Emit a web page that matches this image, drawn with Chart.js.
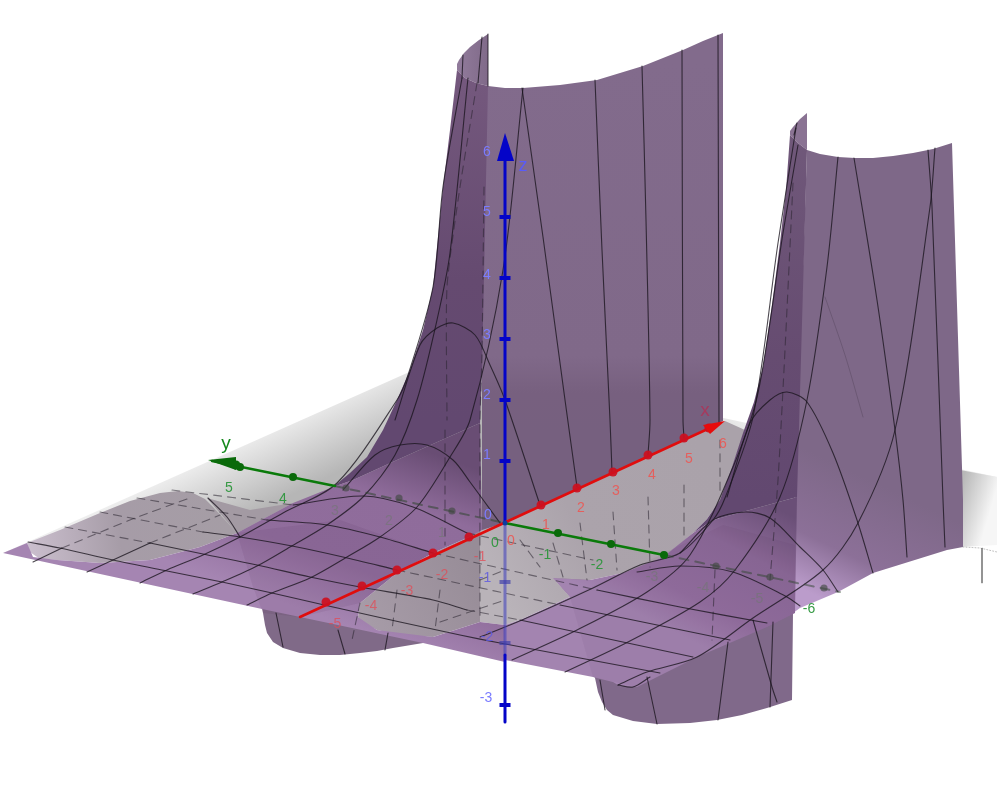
<!DOCTYPE html>
<html><head><meta charset="utf-8">
<style>html,body{margin:0;padding:0;background:#fff}canvas{display:block}</style>
<script src="https://cdn.jsdelivr.net/npm/chart.js@4/dist/chart.umd.min.js"></script>
</head><body><canvas id="c" width="997" height="795"></canvas>
<script>
// ---------- data, [horizontal, vertical] in picture units ----------
const xTickLabels = ["-5","-4","-3","-2","-1","0","1","2","3","4","5","6"];
const xTickMarks  = [[326,602],[362,586],[397,570],[433,553],[469,537],[541,505],[577,488],[613,472],[648,455],[684,438],[709,428]];
const xLabelSpots = [[335,624],[371,606],[407,591],[442,575],[480,557],[511,541],[546,525],[581,508],[616,491],[652,475],[689,459],[723,444]];
const yTickLabels = ["5","4","3","2","1","0","-1","-2","-3","-4","-5","-6"];
const yTickMarksFront = [[240,467],[293,477],[558,533],[611,544],[664,555]];
const yTickMarksBehind = [[346,488],[399,498],[452,511],[716,566],[770,577],[824,588]];
const yLabelSpots = [[229,488],[283,499],[335,511],[389,521],[442,533],[495,543],[545,555],[597,565],[652,577],[703,588],[757,599],[809,609]];
const zTickLabels = ["6","5","4","3","2","1","0","-1","-2","-3"];
const zTickMarksFront = [[505,217],[505,278],[505,339],[505,400],[505,461],[505,705]];
const zTickMarksBehind = [[505,582],[505,643]];
const zLabelSpots = [[487,152],[487,212],[487,275],[487,335],[487,395],[487,455],[488,515],[485,578],[487,637],[486,698]];

const planeLeft = [[3,553],[434,361],[485,372],[485,530],[237,533]];
const planeCentre = [[640,400],[997,477],[963,547],[720,520]];
const planeFarRight = [[955,469],[997,477],[997,545],[960,547]];
const innerGrey = [[505,523],[725,421],[745,430],[732,467],[720,500],[707,519],[693,533],[678,546],[663,557],[643,566],[623,573],[590,580],[570,580],[553,578],[570,597],[520,620],[505,625],[480,622],[480,530]];
const innerGreyLeft = [[480,530],[480,622],[433,637],[400,635],[377,630],[362,622],[358,617],[360,603],[397,573],[433,553],[469,537]];
const humpLeft = [[27,543],[60,530],[100,513],[130,501],[160,493],[178,491],[193,493],[205,499],[213,507],[237,533],[200,547],[150,560],[100,563],[57,560],[40,559],[30,552]];
const humpWedge = [[207,498],[250,510],[293,503],[237,533]];
const tubeLeft = [[258,590],[263,613],[265,625],[267,633],[273,642],[283,648],[300,653],[320,655],[340,655],[360,653],[377,651],[393,648],[423,643],[433,641],[377,632],[300,614]];
const tubeRight = [[590,670],[595,678],[598,692],[602,702],[607,710],[613,715],[633,721],[657,724],[690,723],[717,720],[742,715],[767,708],[792,700],[793,613],[700,640]];
const wallCentre = [[488,86],[505,88],[523,88],[560,85],[597,80],[620,73],[643,66],[663,58],[683,50],[703,41],[723,33],[723,421],[505,523],[482,530],[482,86]];
const lipCentre = [[457,70],[457,64],[459,60],[464,53],[470,47],[479,40],[488,34],[488,86],[476,83],[465,78]];
const wallCentreDark = [[457,70],[465,78],[476,83],[488,86],[482,370],[480,423],[397,460],[353,480],[333,487],[350,473],[367,457],[383,430],[397,400],[410,370],[423,330],[433,287],[438,237],[443,187],[450,130]];
const sheetLeft = [[3,553],[27,543],[33,557],[57,560],[100,563],[150,560],[200,547],[237,533],[293,503],[333,487],[353,480],[397,460],[480,423],[482,530],[469,537],[433,553],[397,573],[360,603],[358,617],[377,630],[433,637],[480,622],[505,625],[505,662],[423,643],[300,617],[262,609]];
const sheetLeftShade = [[237,533],[253,587],[263,613],[300,617],[360,603],[397,573],[433,553],[340,520]];
const wallRight = [[807,150],[820,154],[838,157],[855,158],[873,158],[893,156],[913,153],[933,149],[952,143],[963,500],[963,547],[947,550],[873,573],[838,592],[800,608],[793,613],[795,500]];
const lipRight = [[790,135],[790,131],[793,127],[800,119],[807,113],[807,150],[798,143]];
const wallRightDark = [[790,135],[798,143],[807,150],[797,497],[713,520],[693,533],[707,519],[720,500],[732,467],[743,433],[754,402],[763,367],[772,305],[780,243],[786,190]];
const sheetRight = [[553,578],[590,580],[623,573],[663,557],[693,533],[713,520],[797,497],[795,613],[767,627],[697,657],[637,687],[618,685],[613,682],[593,677],[505,660],[505,625],[520,620],[570,597]];
const sheetRightShade = [[570,597],[593,677],[637,687],[697,657],[767,627],[795,613],[795,545],[723,525],[650,560]];
const wedgeCentre = [[553,578],[590,580],[570,597]];

const gridSolid = [
 [[28,542],[60,548],[113,560],[167,571],[222,582],[272,593],[333,607],[400,622],[460,635],[500,643],[660,673]],
 [[150,543],[203,554],[257,565],[310,577],[360,587],[433,600],[467,610]],
 [[520,620],[693,657]],
 [[203,532],[240,537],[292,546],[343,557],[397,570]],
 [[560,605],[730,640]],
 [[267,520],[327,525],[380,537],[433,553]],
 [[597,590],[680,607],[767,623]],
 [[293,505],[363,496],[413,507],[467,533]],
 [[637,572],[680,566],[733,572],[787,597],[800,606]],
 [[343,490],[375,455],[400,445],[427,445],[453,460],[470,482],[500,523]],
 [[680,553],[713,520],[745,512],[770,518],[800,547],[823,570],[838,592]],
 [[395,420],[420,345],[437,328],[453,323],[475,335],[490,365],[505,400],[540,505]],
 [[727,497],[750,423],[770,400],[787,392],[807,402],[833,453],[857,520],[873,573]],
 [[33,562],[62,548]],
 [[87,572],[113,560],[150,543]],
 [[140,583],[167,570],[203,555],[240,537],[283,513],[337,483],[397,400],[408,375],[433,287],[443,187],[462,78]],
 [[193,594],[222,582],[257,566],[290,547],[327,525],[363,497],[395,455],[417,400],[437,320],[450,253],[468,78]],
 [[247,605],[272,593],[310,578],[347,557],[380,537],[417,507],[450,457],[470,420],[503,270],[523,88]],
 [[522,88],[543,237],[565,400],[577,487]],
 [[595,80],[602,250],[610,420],[612,472]],
 [[642,66],[646,220],[650,420],[648,455]],
 [[682,50],[683,420],[684,438]],
 [[718,35],[719,424]],
 [[488,34],[488,86]],
 [[482,37],[478,83]],
 [[463,55],[462,78]],
 [[512,660],[577,630],[647,592],[690,555],[733,467],[758,393],[783,233],[798,145]],
 [[565,672],[628,642],[700,602],[735,570],[780,497],[807,400],[827,267],[838,157]],
 [[480,637],[522,620],[593,588],[640,565],[680,553],[713,520],[725,498],[753,417],[778,243],[796,128]],
 [[618,685],[647,672],[697,657],[753,618],[823,570],[858,523],[895,430],[930,207],[935,148]],
 [[854,158],[877,300],[895,430],[903,500],[907,557]],
 [[928,150],[932,207],[943,500],[945,547]],
 [[208,498],[227,517],[240,537]],
 [[276,613],[283,647]],
 [[338,630],[345,654]],
 [[388,633],[385,650]],
 [[600,680],[605,710]],
 [[647,677],[657,724]],
 [[728,642],[718,720]],
 [[753,620],[772,687],[777,702]],
 [[773,622],[770,707]],
 [[797,123],[794,135]],
 [[618,685],[633,687],[650,677]]
];
const gridDashed = [
 [[62,548],[135,518],[190,498]],
 [[150,543],[220,515]],
 [[65,527],[150,543]],
 [[100,512],[203,532]],
 [[137,498],[267,520]],
 [[172,490],[293,505]],
 [[484,187],[482,353],[480,420],[480,620]],
 [[477,83],[460,187],[447,287],[447,420]],
 [[445,430],[445,545]],
 [[793,183],[785,350],[778,480],[770,580]],
 [[720,440],[720,493]],[[684,485],[684,540]],[[648,497],[650,567]],[[613,512],[617,570]],[[580,523],[587,580]],[[553,543],[563,577]],[[520,540],[540,567]],
 [[397,570],[560,605]],[[433,553],[597,590]],[[467,533],[593,560]],[[467,610],[520,620]],
 [[360,603],[352,640]],[[397,590],[392,630]],[[440,590],[435,630]],
 [[480,580],[505,570]],[[440,622],[505,600]],[[715,570],[712,640]]
];
const gridFaint = [[[825,297],[845,355],[863,417]]];
const rimLine = [[963,547],[980,548],[997,552]];
const rimTick = [[982,548],[982,583]];
const axisXLine = [[300,617],[712,427]];
const axisXHead = [[725,421],[703,425],[710,434]];
const axisYFront = [[212,461],[335,486]];
const axisYFrontRight = [[505,523],[664,555]];
const axisYBehind = [[335,486],[505,523]];
const axisYBehindRight = [[664,555],[840,592]];
const axisYHead = [[208,460],[236,457],[236,470]];
const axisZUpper = [[505,161],[505,523]];
const axisZBehind = [[505,523],[505,655]];
const axisZLower = [[505,655],[505,722]];
const axisZHead = [[505,133],[497,161],[514,161]];

// ---------- helpers ----------
const rows = a => a.map(p => ({x:p[0], y:p[1]}));
const ramp = (x0,y0,x1,y1,stops) => ctx => {
  const g = ctx.chart.ctx.createLinearGradient(x0,y0,x1,y1);
  stops.forEach(s => g.addColorStop(s[0], s[1]));
  return g;
};
const sets = [];
const area = (pts, color) => sets.push({data:rows(pts), showLine:true, fill:'shape', backgroundColor:color, borderWidth:0, borderColor:'rgba(0,0,0,0)', pointRadius:0, tension:0});
const line = (pts, color, width, dash, bend) => sets.push({data:rows(pts), showLine:true, fill:false, borderColor:color, borderWidth:width, borderDash:dash||[], pointRadius:0, tension:bend||0, borderCapStyle:'round'});
const marks = (pts, color, r, style, w) => sets.push({data:rows(pts), showLine:false, pointRadius:r, pointStyle:style||'circle', pointBackgroundColor:color, pointBorderColor:color, pointBorderWidth:w||0});

// ---------- painter's order ----------
area(planeLeft, ramp(270,425,302,490,[[0,'#efefef'],[1,'#b6b6b6']]));
area(planeCentre, ramp(760,430,725,490,[[0,'#ededed'],[1,'#b4b4b4']]));
area(planeFarRight, ramp(958,495,992,505,[[0,'#b8b8b8'],[1,'#f6f6f6']]));
area(humpLeft, ramp(30,545,230,520,[[0,'#cabecd'],[.45,'#a69ca7'],[1,'#a59da5']]));
area(humpWedge, '#a39aa3');
area(innerGrey, ramp(500,590,720,480,[[0,'#b9b3b9'],[.4,'#aba3ab'],[1,'#aaa2aa']]));
area(innerGreyLeft, ramp(360,620,480,560,[[0,'#a79ca8'],[1,'#978c97']]));
area(wedgeCentre, '#8f838f');
area(tubeLeft, '#806a88');
area(tubeRight, '#80698a');
area(wallCentre, ramp(0,60,0,430,[[0,'#826b8c'],[.8,'#806989'],[.9,'#77607f'],[1,'#76607f']]));
area(lipCentre, ramp(458,60,488,60,[[0,'#917b9b'],[1,'#806a89']]));
area(wallCentreDark, ramp(0,70,0,420,[[0,'#75597e'],[.6,'#654a70'],[1,'#624870']]));
area(wallRight, ramp(870,480,815,595,[[0,'#7e6888'],[.6,'#8c7098'],[1,'#bb9ccb']]));
area(lipRight, '#8a7393');
area(wallRightDark, ramp(0,135,0,500,[[0,'#70587a'],[.6,'#664c71'],[1,'#624870']]));
area(sheetLeft, ramp(410,445,345,625,[[0,'#694d74'],[.3,'#8f6c9b'],[.7,'#906d9c'],[1,'#a585b2']]));
area(sheetLeftShade, 'rgba(50,20,60,0.07)');
area(sheetRight, ramp(760,500,690,640,[[0,'#6a4f77'],[.35,'#8c6a98'],[.75,'#936fa0'],[1,'#a384b0']]));
area(sheetRightShade, 'rgba(50,20,60,0.05)');
line(rimLine, 'rgba(150,150,150,0.6)', 1, [1,2]);
line(rimTick, 'rgba(120,120,120,0.8)', 1);
gridFaint.forEach(g => line(g, 'rgba(40,30,45,0.22)', 1, [], .3));
gridDashed.forEach(g => line(g, 'rgba(40,35,45,0.55)', 1.1, [8,6], .2));
gridSolid.forEach(g => line(g, 'rgba(25,20,30,0.78)', 1.1, [], .3));
// axes
line(axisYBehind, 'rgba(50,70,50,0.55)', 2, [9,7]);
line(axisYBehindRight, 'rgba(50,70,50,0.5)', 2, [9,7]);
marks(yTickMarksBehind, 'rgba(60,70,60,0.6)', 3.6);
line(axisYFront, '#0a7a0a', 2.4);
line(axisYFrontRight, '#0a7a0a', 2.6);
marks(yTickMarksFront, '#0a6a0a', 4);
area(axisYHead, '#0a6a0a');
marks([[236,465]], '#0a6a0a', 4.5);
line(axisZBehind, 'rgba(60,60,190,0.55)', 3);
marks(zTickMarksBehind, 'rgba(60,60,170,0.65)', 5.5, 'line', 4);
line(axisZUpper, '#0404c8', 3);
line(axisZLower, '#0404c8', 3);
marks(zTickMarksFront, '#0404c8', 5.5, 'line', 4);
area(axisZHead, '#0404c8');
line(axisXLine, '#e00d0d', 2.6);
marks(xTickMarks, 'rgba(205,15,30,0.92)', 4.5);
area(axisXHead, '#e60c0c');
marks([[505,523]], '#0d3ea0', 2.5);
sets.forEach((s,i) => { s.order = sets.length - i; });

const textPlugin = { id:'axisText', afterDatasetsDraw(chart){
  const c = chart.ctx, sx = chart.scales.x, sy = chart.scales.y;
  const put = (t,p,color,font) => { c.font = font; c.fillStyle = color; c.textAlign='center'; c.textBaseline='middle';
    c.fillText(t, sx.getPixelForValue(p[0]), sy.getPixelForValue(p[1])); };
  const f = '14px "Liberation Sans"';
  xTickLabels.forEach((t,i) => put(t, xLabelSpots[i], i<5 ? 'rgba(225,75,85,0.75)' : 'rgba(232,92,88,0.95)', f));
  yTickLabels.forEach((t,i) => {
    const hidden = (i>=2 && i<=4) || (i>=8 && i<=10);
    put(t, yLabelSpots[i], hidden ? 'rgba(110,120,110,0.55)' : 'rgba(45,150,60,0.95)', f);
  });
  zTickLabels.forEach((t,i) => put(t, zLabelSpots[i], (i==7||i==8) ? 'rgba(95,90,225,0.85)' : '#7b7cff', f));
  put('x', [705,411], '#a53a5e', '19px "Liberation Sans"');
  put('y', [226,444], '#168a1e', '19px "Liberation Sans"');
  put('z', [523,166], '#5a5cf8', '18px "Liberation Sans"');
}};

new Chart(document.getElementById('c'), {
  type:'scatter',
  data:{datasets:sets},
  plugins:[textPlugin],
  options:{
    responsive:false, animation:false, devicePixelRatio:1,
    layout:{padding:0, autoPadding:false},
    plugins:{legend:{display:false},tooltip:{enabled:false}},
    events:[],
    scales:{
      x:{type:'linear',min:0,max:997,display:false},
      y:{type:'linear',min:0,max:795,reverse:true,display:false}
    }
  }
});
</script></body></html>
